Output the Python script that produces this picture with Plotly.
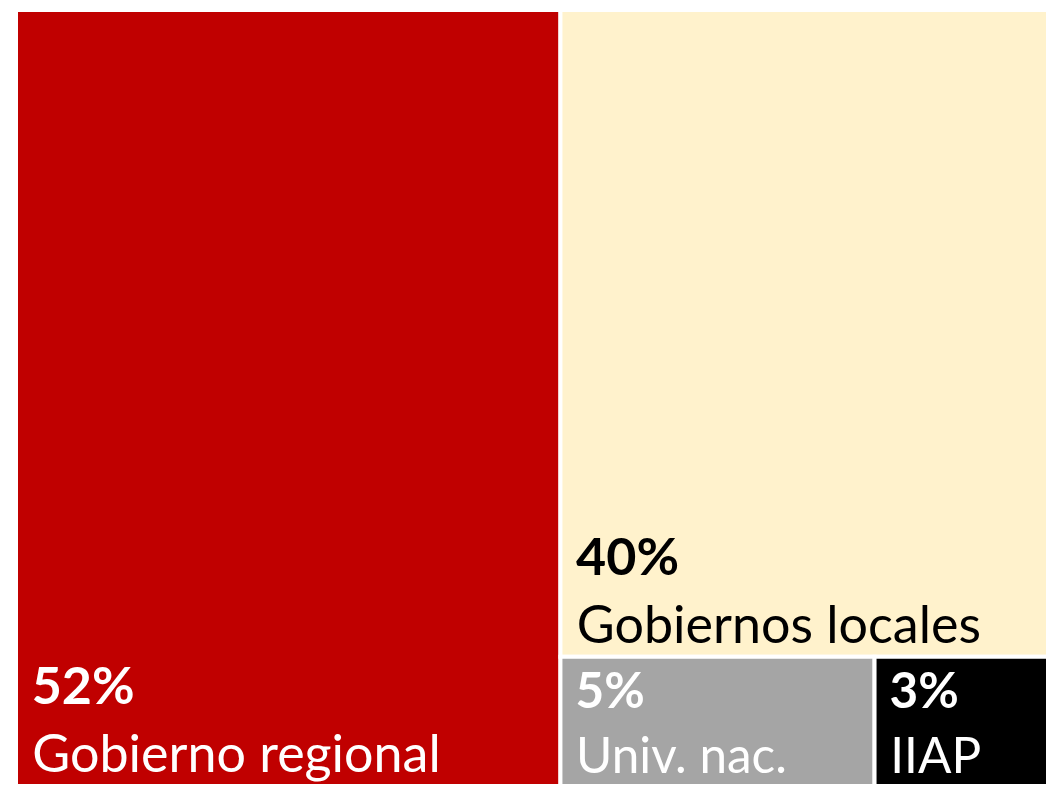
import plotly.graph_objects as go

labels = ["Gobierno regional", "Gobiernos locales", "Univ. nac.", "IIAP"]
values = [52, 40, 5, 3]
pct_text = ["52%", "40%", "5%", "3%"]
colors = ["#C00000", "#FFF2CC", "#A5A5A5", "#000000"]
text_colors = ["#FFFFFF", "#000000", "#FFFFFF", "#FFFFFF"]

fig = go.Figure(go.Treemap(
    labels=labels,
    parents=[""] * len(labels),
    values=values,
    text=pct_text,
    texttemplate="<b>\u00a0%{text}</b><br>\u00a0%{label}",
    textposition="bottom left",
    textfont=dict(family="Lato", size=52, color=text_colors),
    marker=dict(colors=colors, line=dict(color="white", width=4), pad=dict(t=0, l=0, r=0, b=0)),
    tiling=dict(packing="squarify", squarifyratio=1, pad=0),
    pathbar=dict(visible=False),
    sort=True,
    hoverinfo="skip",
))

fig.update_layout(
    width=1063, height=786,
    margin=dict(l=16, r=0, t=10, b=0),
    paper_bgcolor="white",
    showlegend=False,
)

fig.write_html("out.html", config={"responsive": False, "displayModeBar": False},
               post_script="document.body.style.margin='0';document.body.style.overflow='hidden';")
